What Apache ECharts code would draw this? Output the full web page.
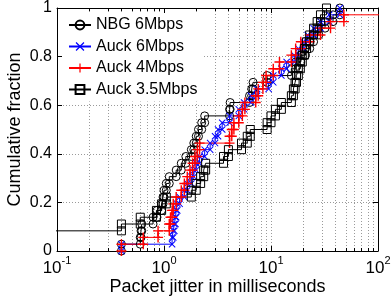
<!DOCTYPE html>
<html>
<head>
<meta charset="utf-8">
<script src="https://cdn.jsdelivr.net/npm/echarts@6/dist/echarts.min.js"></script>
<style>
  html, body { margin: 0; padding: 0; background: #fff; }
  #chart { width: 391px; height: 298px; }
</style>
</head>
<body>
<div id="chart"></div>
<script>
// jitter (ms) at each step of the CDF, and the cumulative fraction after that step
const nbgX = [0.40, 0.60, 0.61, 0.62, 0.79, 0.86, 0.95, 0.98, 1.00, 1.05, 1.12, 1.30,
  1.45, 1.60, 1.80, 1.90, 2.00, 2.10, 2.25, 2.40, 4.10, 4.15, 6.3, 6.6,
  6.8, 9.2, 15.5, 17, 19, 21, 23, 25, 28, 32, 38, 44];
const nbgF = [0.028, 0.056, 0.083, 0.111, 0.139, 0.167, 0.194, 0.222, 0.250, 0.278, 0.306, 0.333,
  0.361, 0.389, 0.417, 0.444, 0.472, 0.500, 0.528, 0.556, 0.583, 0.611, 0.639, 0.667,
  0.694, 0.722, 0.750, 0.778, 0.806, 0.833, 0.861, 0.889, 0.917, 0.944, 0.972, 1.000];

const auck6X = [0.40, 1.19, 1.22, 1.25, 1.28, 1.30, 1.33, 1.40, 1.55, 1.65, 1.80, 1.90,
  2.0, 2.15, 2.4, 2.7, 3.0, 3.2, 3.5, 4.1, 5.0, 5.6, 6.5, 7.4,
  9.5, 10.5, 12.5, 14, 16.5, 18, 20, 22, 25, 29, 35, 44];
const auck6F = [0.028, 0.056, 0.083, 0.111, 0.139, 0.167, 0.194, 0.222, 0.250, 0.278, 0.306, 0.333,
  0.361, 0.389, 0.417, 0.444, 0.472, 0.500, 0.528, 0.556, 0.583, 0.611, 0.639, 0.667,
  0.694, 0.722, 0.750, 0.778, 0.806, 0.833, 0.861, 0.889, 0.917, 0.944, 0.972, 1.000];

const auck4X = [0.40, 0.64, 0.88, 1.12, 1.15, 1.19, 1.22, 1.30, 1.45, 1.55, 1.65, 1.75,
  1.85, 1.95, 2.05, 2.15, 4.1, 4.3, 4.5, 5.0, 5.4, 5.7, 7.2, 7.6,
  8.4, 9.0, 10.5, 12, 15.5, 17, 19, 23, 29, 36, 48, 150];
const auck4F = [0.028, 0.056, 0.083, 0.111, 0.139, 0.167, 0.194, 0.222, 0.250, 0.278, 0.306, 0.333,
  0.361, 0.389, 0.417, 0.444, 0.472, 0.500, 0.528, 0.556, 0.583, 0.611, 0.639, 0.667,
  0.694, 0.722, 0.750, 0.778, 0.806, 0.833, 0.861, 0.889, 0.917, 0.944, 0.972, 1.000];

// first three samples are ~0 ms, off the left of the log axis
const auck35X = [0.01, 0.40, 0.60, 0.85, 0.95, 1.05, 1.8, 2.0, 2.2, 2.35, 2.45, 3.6,
  4.0, 5.3, 6.0, 6.4, 9.2, 10, 11, 12.5, 15.5, 16.2, 16.8, 17.3,
  18, 18.8, 19.6, 20.5, 21.5, 23, 25, 27, 29, 33];
const auck35F = [0.083, 0.111, 0.139, 0.167, 0.194, 0.222, 0.250, 0.278, 0.306, 0.333, 0.361, 0.389,
  0.417, 0.444, 0.472, 0.500, 0.528, 0.556, 0.583, 0.611, 0.639, 0.667, 0.694, 0.722,
  0.750, 0.778, 0.806, 0.833, 0.861, 0.889, 0.917, 0.944, 0.972, 1.000];

const names = ["NBG 6Mbps", "Auck 6Mbps", "Auck 4Mbps", "Auck 3.5Mbps"];
const minorTicks = [0.2, 0.3, 0.4, 0.5, 0.6, 0.7, 0.8, 0.9,
  2, 3, 4, 5, 6, 7, 8, 9, 20, 30, 40, 50, 60, 70, 80, 90];

const font = "'Liberation Sans', Arial, Helvetica, sans-serif";
const plusPath = "path://M4.3,0H5.7V4.3H10V5.7H5.7V10H4.3V5.7H0V4.3H4.3Z";
const crossPath = "path://M0,1L1,0L5,4L9,0L10,1L6,5L10,9L9,10L5,6L1,10L0,9L4,5Z";

// corners of the staircase, so a marker sits at both ends of each riser
function stairs(xs, fs) {
  const pts = [[xs[0], 0]];
  for (let i = 0; i < xs.length; i++) {
    if (i > 0) pts.push([xs[i], fs[i - 1]]);
    pts.push([xs[i], fs[i]]);
  }
  return pts;
}

function lineSeries(name, data, symbol, size, color, filled) {
  return {
    name: name,
    type: "line",
    data: data,
    symbol: symbol,
    symbolSize: size,
    z: 3,
    itemStyle: filled
      ? { color: color, borderWidth: 0 }
      : { color: "rgba(0,0,0,0)", borderColor: color, borderWidth: 1 },
    lineStyle: { color: color, width: 1 },
    emphasis: { disabled: true },
    animation: false,
  };
}

const chart = echarts.init(document.getElementById("chart"));

const tickStyle = { color: "#000", width: 1 };
const gridStyle = { color: "#9a9a9a", width: 1, type: [1, 2] };

chart.setOption({
  animation: false,
  grid: { left: 57, right: 13, top: 8, bottom: 47, outerBoundsMode: "none", containLabel: false },
  legend: {
    data: names,
    orient: "vertical",
    left: 62,
    top: 13,
    padding: [4, 6, 4, 6],
    itemWidth: 22,
    itemHeight: 11,
    itemGap: 5.5,
    backgroundColor: "#fff",
    selectedMode: false,
    textStyle: { fontSize: 16, lineHeight: 16, color: "#000", fontFamily: font },
  },
  xAxis: [
    {
      type: "log",
      logBase: 10,
      min: 0.1,
      max: 100,
      position: "bottom",
      axisLine: { show: true, onZero: false, lineStyle: tickStyle },
      axisTick: { show: true, inside: true, length: 5, lineStyle: tickStyle },
      splitLine: { show: true, lineStyle: gridStyle },
      axisLabel: {
        margin: 4,
        color: "#000",
        formatter: (v) => "{b|10}{s|" + Math.round(Math.log10(v)) + "}",
        rich: {
          b: { fontSize: 17, lineHeight: 22, verticalAlign: "bottom", fontFamily: font, color: "#000" },
          s: { fontSize: 11, lineHeight: 22, verticalAlign: "top", fontFamily: font, color: "#000" },
        },
      },
      name: "Packet jitter in milliseconds",
      nameLocation: "middle",
      nameGap: 27,
      nameMoveOverlap: false,
      nameTextStyle: { fontSize: 18, color: "#000", fontFamily: font },
    },
    {
      type: "log",
      logBase: 10,
      min: 0.1,
      max: 100,
      position: "top",
      axisLine: { show: true, onZero: false, lineStyle: tickStyle },
      axisTick: { show: true, inside: true, length: 5, lineStyle: tickStyle },
      splitLine: { show: false },
      axisLabel: { show: false },
    },
  ],
  yAxis: [
    {
      type: "value",
      min: 0,
      max: 1,
      interval: 0.2,
      position: "left",
      axisLine: { show: true, onZero: false, lineStyle: tickStyle },
      axisTick: { show: true, inside: true, length: 5, lineStyle: tickStyle },
      splitLine: { show: true, lineStyle: gridStyle },
      axisLabel: { margin: 5, fontSize: 16, color: "#000", fontFamily: font },
      name: "Cumulative fraction",
      nameLocation: "middle",
      nameGap: 33,
      nameMoveOverlap: false,
      nameTextStyle: { fontSize: 18, color: "#000", fontFamily: font },
    },
    {
      type: "value",
      min: 0,
      max: 1,
      interval: 0.2,
      position: "right",
      axisLine: { show: true, onZero: false, lineStyle: tickStyle },
      axisTick: { show: true, inside: true, length: 5, lineStyle: tickStyle },
      splitLine: { show: false },
      axisLabel: { show: false },
    },
  ],
  series: [
    {
      // minor decade grid and ticks (2..9 in each decade)
      type: "custom",
      xAxisIndex: 0,
      yAxisIndex: 0,
      z: 1,
      silent: true,
      data: minorTicks.map((v) => [v, 0]),
      encode: { x: 0, y: 1 },
      renderItem: function (params, api) {
        const b = api.coord([api.value(0), 0]);
        const t = api.coord([api.value(0), 1]);
        const x = Math.round(b[0]) + 0.5;
        return {
          type: "group",
          children: [
            { type: "line", shape: { x1: x, y1: t[1], x2: x, y2: b[1] }, style: { stroke: "#9a9a9a", lineWidth: 1, lineDash: [1, 2] } },
            { type: "line", shape: { x1: x, y1: b[1], x2: x, y2: b[1] - 3 }, style: { stroke: "#000", lineWidth: 1 } },
            { type: "line", shape: { x1: x, y1: t[1], x2: x, y2: t[1] + 3 }, style: { stroke: "#000", lineWidth: 1 } },
          ],
        };
      },
    },
    lineSeries(names[0], stairs(nbgX, nbgF), "circle", 8, "#000", false),
    lineSeries(names[1], stairs(auck6X, auck6F), crossPath, 7, "#0000ff", true),
    lineSeries(names[2], stairs(auck4X, auck4F), plusPath, 10, "#ff0000", true),
    lineSeries(names[3], stairs(auck35X, auck35F), "rect", 8, "#000", false),
  ],
});

window.addEventListener("resize", () => {
  chart.resize();
});
</script>
</body>
</html>
